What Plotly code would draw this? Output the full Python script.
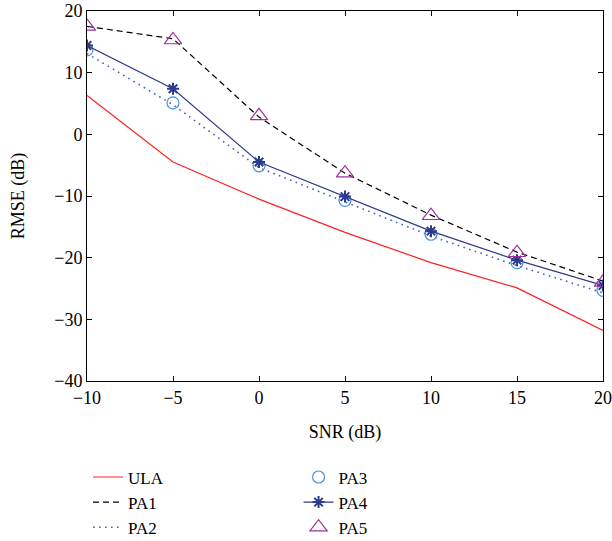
import plotly.graph_objects as go

snr = [-10, -5, 0, 5, 10, 15, 20]
ula = [6.3, -4.5, -10.5, -15.9, -20.8, -24.9, -31.8]
pa1 = [17.5, 15.5, 2.8, -6.3, -13.1, -19.1, -23.8]
pa2 = [13.1, 4.8, -5.4, -11.0, -16.5, -21.3, -25.7]
pa3 = [13.7, 5.1, -5.1, -10.7, -16.2, -20.8, -25.3]
pa4 = [14.4, 7.4, -4.5, -10.1, -15.7, -20.4, -24.5]
pa5 = [17.5, 15.3, 3.0, -6.3, -13.2, -19.2, -24.0]

FAM = "Liberation Serif, Times New Roman, Times, serif"
font = dict(family=FAM, size=18, color="black")
legend_font = dict(family=FAM, size=17, color="black")

fig = go.Figure()
fig.add_trace(go.Scatter(x=snr, y=ula, mode="lines", name="ULA",
                         line=dict(color="#ff2020", width=1.2), legend="legend"))
fig.add_trace(go.Scatter(x=snr, y=pa1, mode="lines", name="PA1",
                         line=dict(color="black", width=1.2, dash="6px,4px"), legend="legend"))
fig.add_trace(go.Scatter(x=snr, y=pa2, mode="lines", name="PA2",
                         line=dict(color="#3d62c4", width=1.6, dash="1.6px,4.4px"), legend="legend"))
fig.add_trace(go.Scatter(x=snr, y=pa3, mode="markers", name="PA3",
                         marker=dict(symbol="circle-open", size=12, color="#4a90d9",
                                     line=dict(width=1.2)), legend="legend2"))
fig.add_trace(go.Scatter(x=snr, y=pa4, mode="lines+markers", name="PA4",
                         line=dict(color="#2b3a8c", width=1.2),
                         marker=dict(symbol="asterisk-open", size=10, color="#2b3a8c",
                                     line=dict(width=2, color="#2b3a8c")), legend="legend2"))
fig.add_trace(go.Scatter(x=snr, y=pa5, mode="markers", name="PA5",
                         marker=dict(symbol="triangle-up-open", size=15, color="#a0309a",
                                     line=dict(width=1.2)), legend="legend2"))

axis_common = dict(showline=True, linecolor="black", linewidth=1, mirror="ticks",
                   ticks="inside", ticklen=5, tickcolor="black", showgrid=False,
                   zeroline=False, tickfont=font, automargin=False)

fig.update_layout(
    width=612, height=541,
    margin=dict(l=87, r=9, t=11, b=160, autoexpand=False),
    paper_bgcolor="white", plot_bgcolor="white",
    font=font,
    xaxis=dict(range=[-10, 20], dtick=5, title=dict(text="SNR (dB)", font=font, standoff=18),
               **axis_common),
    yaxis=dict(range=[-40, 20], dtick=10, title=dict(text="RMSE (dB)", font=font, standoff=24),
               **axis_common),
    legend=dict(x=0.002, y=-0.212, xanchor="left", yanchor="top", bgcolor="rgba(0,0,0,0)",
                font=legend_font, tracegroupgap=0, itemwidth=30),
    legend2=dict(x=0.41, y=-0.212, xanchor="left", yanchor="top", bgcolor="rgba(0,0,0,0)",
                 font=legend_font, tracegroupgap=0, itemwidth=30),
)

# remove the default 8px body margin so the figure sits at the page origin
fig.write_html("out.html", config={"displayModeBar": False},
               post_script="document.body.style.margin='0px';")
